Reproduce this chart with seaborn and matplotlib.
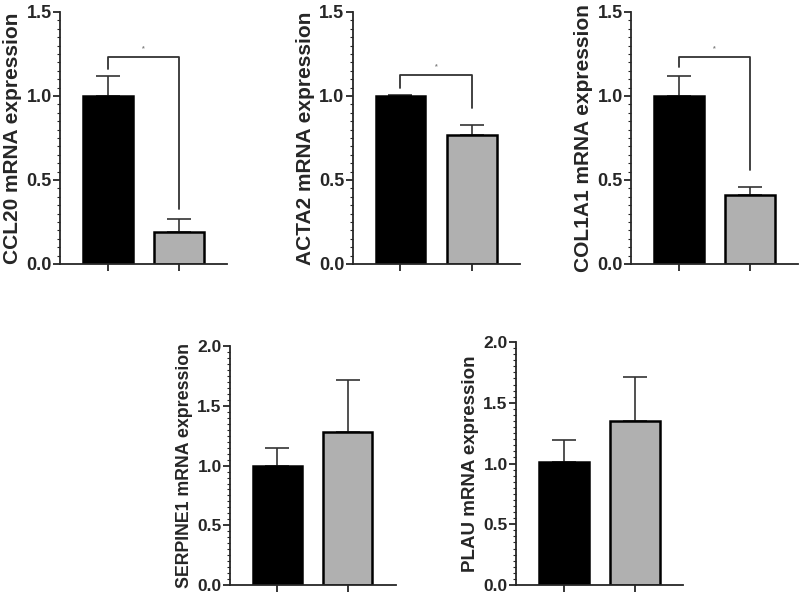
import numpy as np
import pandas as pd
import seaborn as sns
import matplotlib.pyplot as plt
from matplotlib.ticker import MultipleLocator

# Data
genes = ["CCL20", "ACTA2", "COL1A1", "SERPINE1", "PLAU"]
groups = ["Control", "Treated"]
control_mean = [1.00, 1.00, 1.00, 1.00, 1.01]
control_err = [0.12, 0.005, 0.12, 0.15, 0.18]
treated_mean = [0.19, 0.77, 0.41, 1.28, 1.35]
treated_err = [0.075, 0.06, 0.05, 0.44, 0.36]
y_max = [1.5, 1.5, 1.5, 2.0, 2.0]

# significance brackets (top row only): bar height, left leg end, right leg end
bracket_y = [1.23, 1.125, 1.23]
bracket_left = [1.16, 1.05, 1.17]
bracket_right = [0.33, 0.93, 0.56]

sns.set_style("ticks")
plt.rcParams["font.family"] = ["Liberation Sans", "DejaVu Sans"]
plt.rcParams["font.weight"] = "bold"

palette = ["#000000", "#b0b0b0"]

# axes positions [left, bottom, width, height]
positions = [
    [0.075, 0.56, 0.209, 0.42],
    [0.441, 0.56, 0.209, 0.42],
    [0.789, 0.56, 0.209, 0.42],
    [0.2875, 0.025, 0.207, 0.398],
    [0.645, 0.025, 0.209, 0.405],
]
label_size = [15, 15, 15, 12.8, 13.5]
tick_size = [13, 13, 13, 12.5, 12.5]

fig = plt.figure(figsize=(8, 6), dpi=100)

for i, gene in enumerate(genes):
    ax = fig.add_axes(positions[i])
    df = pd.DataFrame({"group": groups,
                       "value": [control_mean[i], treated_mean[i]]})
    sns.barplot(data=df, x="group", y="value", hue="group", palette=palette,
                width=0.7, edgecolor="black", linewidth=1.8, legend=False,
                errorbar=None, ax=ax)
    ax.errorbar([0, 1], df["value"], yerr=[[0, 0], [control_err[i], treated_err[i]]],
                fmt="none", ecolor="#333333", elinewidth=1.2, capsize=8.5,
                capthick=1.2, zorder=0.5)

    if i < 3:
        ax.plot([0, 0, 1, 1],
                [bracket_left[i], bracket_y[i], bracket_y[i], bracket_right[i]],
                color="#333333", lw=1.3)
        ax.text(0.5, bracket_y[i] + 0.03, "*", fontsize=5, color="gray",
                ha="center", va="bottom")

    ax.set_xlim(-0.67, 1.68)
    ax.set_ylim(0, y_max[i])
    ax.yaxis.set_major_locator(MultipleLocator(0.5))
    ax.yaxis.set_minor_locator(MultipleLocator(0.05))
    ax.yaxis.set_major_formatter(plt.FormatStrFormatter("%.1f"))
    ax.set_xticks([0, 1])
    ax.set_xticklabels([])
    ax.set_xlabel("")
    ax.set_ylabel(f"{gene} mRNA expression", fontsize=label_size[i],
                  fontweight="bold", labelpad=3)
    ax.tick_params(axis="y", which="major", length=5, width=1.3, pad=1,
                   labelsize=tick_size[i])
    ax.tick_params(axis="y", which="minor", length=2.5, width=0.8)
    ax.tick_params(axis="x", length=5, width=1.3)
    for lbl in ax.get_yticklabels():
        lbl.set_fontweight("bold")
    sns.despine(ax=ax)
    ax.spines["left"].set_linewidth(1.3)
    ax.spines["bottom"].set_linewidth(1.3)

plt.savefig("out.png", dpi=100)
